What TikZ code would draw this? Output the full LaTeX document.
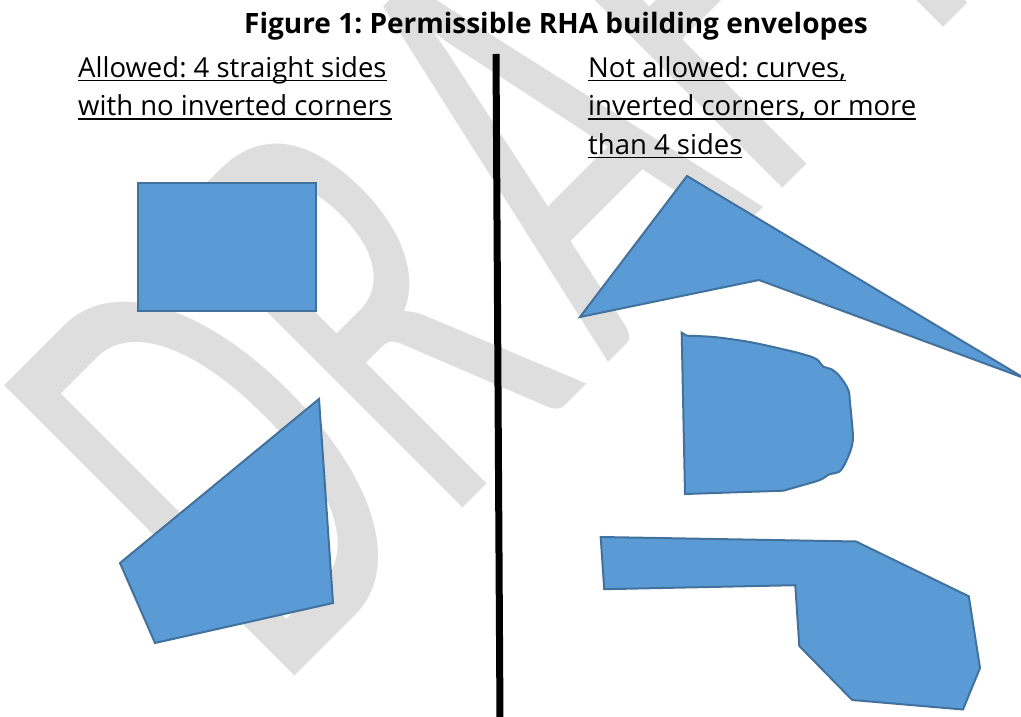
\documentclass[tikz,border=0pt]{standalone}
\usepackage{fontspec}
\usepackage{graphicx}
\setmainfont{Open Sans}
\newfontfamily\markfont{Carlito}
\frenchspacing
\usetikzlibrary{positioning}
\definecolor{figfill}{RGB}{91,155,213}
\definecolor{figedge}{RGB}{65,113,156}
\definecolor{figmark}{RGB}{222,222,222}
\newsavebox\figulbox
\newcommand{\figul}[1]{\sbox\figulbox{#1}\rlap{\rule[-3.8pt]{\wd\figulbox}{1.7pt}}\usebox\figulbox}
\tikzset{
  envelope/.style={draw=figedge, fill=figfill, line width=2pt, line join=miter},
  figtitle/.style={font=\fontsize{28}{34}\selectfont\bfseries, inner sep=0pt},
  figlabel/.style={font=\fontsize{27.5}{38.5}\selectfont, inner sep=0pt, anchor=base west},
  divider/.style={draw=black, line width=7pt},
  watermark/.style={font=\markfont\fontsize{640}{640}\selectfont, text=figmark, inner sep=0pt}
}

\begin{document}
\begin{tikzpicture}[x=1pt,y=-1pt]
  \useasboundingbox (0,0) rectangle (1021,717);
  \clip (0,0) rectangle (1021,717);
  % watermark behind everything
  \node[watermark, rotate=45, anchor=base west] (draftmark) at (276,695) {\scalebox{0.6}[1]{DR\kern40pt AFT}};

  \node[figtitle, anchor=base] (title) at (556,34) {Figure 1: Permissible RHA building envelopes};

  % allowed side
  \node[figlabel] (okline1) at (78,77.5) {\figul{Allowed: 4 straight sides}};
  \node[figlabel] (okline2) at (78,116) {\figul{with no inverted corners}};
  % not allowed side
  \node[figlabel] (noline1) at (588,77.5) {\figul{Not allowed: curves,}};
  \node[figlabel] (noline2) at (588,116) {\figul{inverted corners, or more}};
  \node[figlabel] (noline3) at (588,154.5) {\figul{than 4 sides}};

  \draw[divider] (496,54) -- (500,720);

  % permitted envelopes
  \draw[envelope] (138,183) rectangle (316,311);
  \draw[envelope] (319,399) -- (333,603) -- (155,643) -- (120,563) -- cycle;

  % not permitted envelopes
  \draw[envelope] (687,176) -- (1024,378) -- (759,280) -- (580,317) -- cycle;
  \draw[envelope] (681.7,332.7) -- plot[smooth, tension=0.6] coordinates {
    (686.7,335.7) (710,336.7) (730,339) (753.3,342.7) (783.3,349.3) (803.3,354.3)
    (816.7,359.3) (823.3,366.7) (831.7,369.3) (840,376.7) (848.3,390) (850,403.3)
    (851.7,420) (852.7,441.7) (846.7,460) (839.3,471.7) (830,474) (820,480)
    (806.7,484) (783.3,490.7)} -- (685,494) -- cycle;
  \draw[envelope] (600.7,537) -- (856,541.5) -- (968.8,596.3) -- (980,668) -- (963,709.5)
    -- (852.2,700) -- (799.3,646) -- (795.3,585.2) -- (604.2,589.2) -- cycle;
\end{tikzpicture}
\end{document}
